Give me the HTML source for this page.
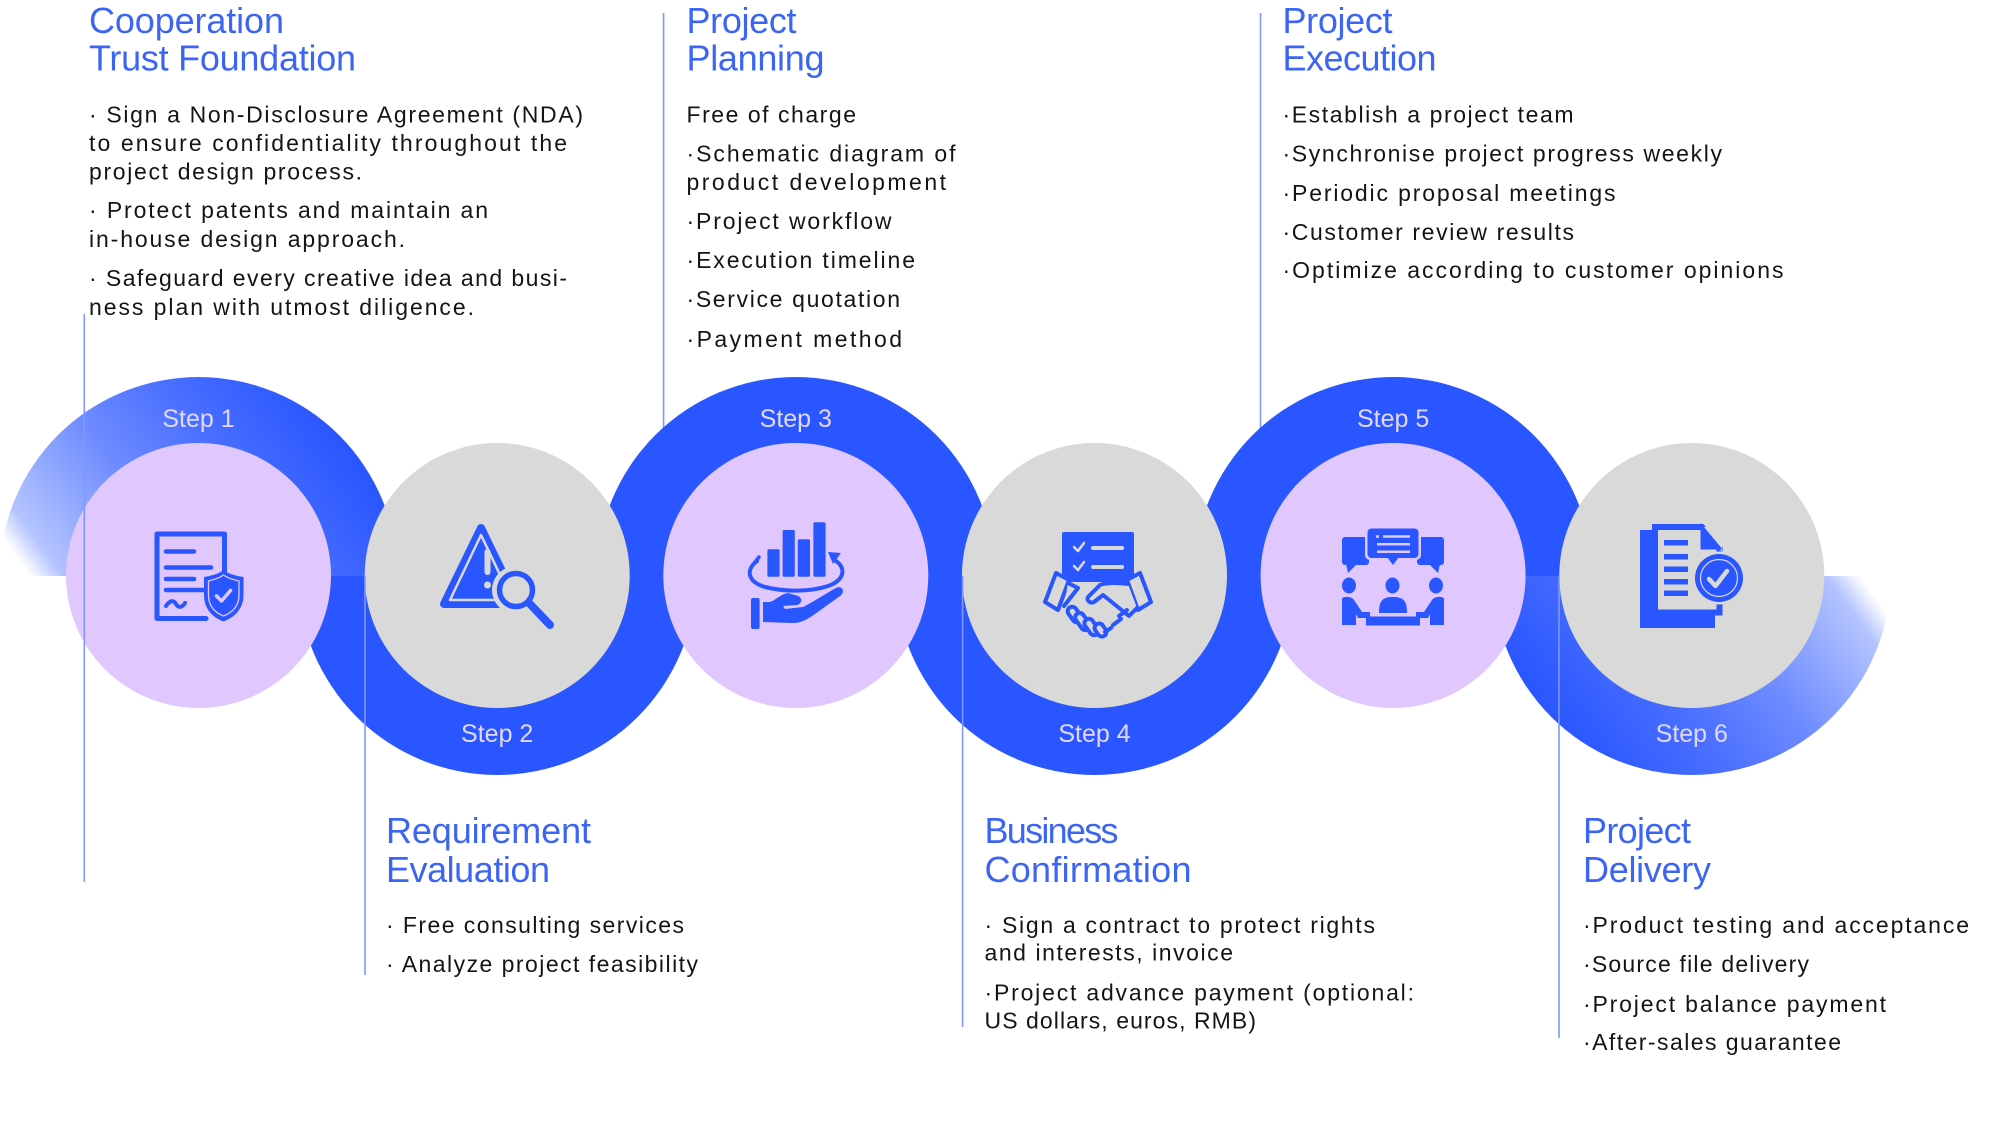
<!DOCTYPE html>
<html><head><meta charset="utf-8"><style>
html,body{margin:0;padding:0;background:#fff;overflow:hidden}
svg{display:block}
.h{font-family:"Liberation Sans",Arial,sans-serif;font-size:36px;fill:#3d65f4}
.b{font-family:"Liberation Sans",Arial,sans-serif;font-size:23px;fill:#141414}
.s{font-family:"Liberation Sans",Arial,sans-serif;font-size:25px;fill:#e2d8ff}
</style></head><body>
<svg width="2000" height="1122" viewBox="0 0 2000 1122" xmlns="http://www.w3.org/2000/svg">
<defs>
<linearGradient id="g1" gradientUnits="userSpaceOnUse" x1="30" y1="576" x2="300" y2="380">
<stop offset="0" stop-color="#2a56ff" stop-opacity="0"/>
<stop offset="0.08" stop-color="#2a56ff" stop-opacity="0.35"/>
<stop offset="0.4" stop-color="#2a56ff" stop-opacity="0.68"/>
<stop offset="0.65" stop-color="#2a56ff" stop-opacity="0.84"/>
<stop offset="0.9" stop-color="#2a56ff" stop-opacity="0.96"/>
<stop offset="1" stop-color="#2a56ff" stop-opacity="1"/>
</linearGradient>
<linearGradient id="g6" gradientUnits="userSpaceOnUse" x1="1860" y1="576" x2="1590" y2="772">
<stop offset="0" stop-color="#2a56ff" stop-opacity="0"/>
<stop offset="0.08" stop-color="#2a56ff" stop-opacity="0.35"/>
<stop offset="0.4" stop-color="#2a56ff" stop-opacity="0.68"/>
<stop offset="0.65" stop-color="#2a56ff" stop-opacity="0.84"/>
<stop offset="0.9" stop-color="#2a56ff" stop-opacity="0.96"/>
<stop offset="1" stop-color="#2a56ff" stop-opacity="1"/>
</linearGradient>
</defs>

<!-- lines under rings -->
<g stroke="#7f97ff" stroke-width="1.6">
<line x1="663.6" y1="13" x2="663.6" y2="576"/>
<line x1="1260.5" y1="13" x2="1260.5" y2="576"/>
</g>

<!-- rings -->
<path d="M -0.5 576 A 199 199 0 0 1 397.5 576 Z" fill="url(#g1)"/>
<path d="M 298.2 576 A 199 199 0 0 0 696.2 576 Z" fill="#2a56ff"/>
<path d="M 596.8 576 A 199 199 0 0 1 994.8 576 Z" fill="#2a56ff"/>
<path d="M 895.5 576 A 199 199 0 0 0 1293.5 576 Z" fill="#2a56ff"/>
<path d="M 1194.1 576 A 199 199 0 0 1 1592.1 576 Z" fill="#2a56ff"/>
<path d="M 1492.8 576 A 199 199 0 0 0 1890.8 576 Z" fill="url(#g6)"/>

<!-- circles -->
<circle cx="198.5" cy="575.5" r="132.5" fill="#e0c7fd"/>
<circle cx="497.2" cy="575.5" r="132.5" fill="#d9d9d9"/>
<circle cx="795.8" cy="575.5" r="132.5" fill="#e0c7fd"/>
<circle cx="1094.5" cy="575.5" r="132.5" fill="#d9d9d9"/>
<circle cx="1393.1" cy="575.5" r="132.5" fill="#e0c7fd"/>
<circle cx="1691.8" cy="575.5" r="132.5" fill="#d9d9d9"/>

<!-- step labels -->
<text class="s" x="198.5" y="427" text-anchor="middle">Step 1</text>
<text class="s" x="497.2" y="742" text-anchor="middle">Step 2</text>
<text class="s" x="795.8" y="427" text-anchor="middle">Step 3</text>
<text class="s" x="1094.5" y="742" text-anchor="middle">Step 4</text>
<text class="s" x="1393.1" y="427" text-anchor="middle">Step 5</text>
<text class="s" x="1691.8" y="742" text-anchor="middle">Step 6</text>

<!-- icon 1: document + shield -->
<g fill="none" stroke="#2a56ff" stroke-linecap="round" stroke-linejoin="round">
<path d="M 206 618.5 L 157 618.5 L 157 534 L 224.5 534 L 224.5 572" stroke-width="5"/>
<path d="M 166 551.5 L 194 551.5 M 166 567.5 L 211 567.5 M 166 579 L 194 579 M 166 590 L 205 590" stroke-width="4.5"/>
<path d="M 166 606 C 170 600, 174 600, 176 604 C 178 608, 182 608, 185 603" stroke-width="4"/>
</g>
<path d="M 223.5 570 C 230 575, 238 576, 243.5 577 L 243.5 595 C 243.5 610, 233 618, 223.5 621.5 C 214 618, 204 610, 204 595 L 204 577 C 209 576, 217 575, 223.5 570 Z" fill="#2a56ff"/>
<path d="M 223.5 575 C 229 579, 235 580, 239 581 L 239 595 C 239 607, 231 613, 223.5 616 C 216 613, 208.5 607, 208.5 595 L 208.5 581 C 212 580, 218 579, 223.5 575 Z" fill="none" stroke="#e0c7fd" stroke-width="1.3"/>
<path d="M 216.5 596 L 221.5 601 L 230.5 590.5" fill="none" stroke="#e0c7fd" stroke-width="3.5" stroke-linecap="round" stroke-linejoin="round"/>

<!-- icon 2: warning + magnifier -->
<path d="M 481 528 L 444 604 L 518 604 Z" fill="#2a56ff" stroke="#2a56ff" stroke-width="8" stroke-linejoin="round"/>
<path d="M 481 535 L 450 600 L 512 600 Z" fill="none" stroke="#d9d9d9" stroke-width="2.5" stroke-linejoin="round"/>
<rect x="484.5" y="549" width="6" height="26" rx="3" fill="#d9d9d9"/>
<circle cx="487.5" cy="585" r="3.5" fill="#d9d9d9"/>
<circle cx="516" cy="590" r="24" fill="#d9d9d9"/>
<circle cx="516" cy="590" r="16.5" fill="#d9d9d9" stroke="#2a56ff" stroke-width="5.5"/>
<path d="M 530 604 L 550 625" stroke="#2a56ff" stroke-width="8" stroke-linecap="round"/>

<!-- icon 3: chart + hand -->
<path d="M 757 561 C 745 570, 748 582, 765 587 C 785 592, 810 592, 828 586 C 845 580, 846 568, 836 561" fill="none" stroke="#2a56ff" stroke-width="4" stroke-linecap="round"/>
<path d="M 752 566 L 759 557" stroke="#2a56ff" stroke-width="3.5" stroke-linecap="round"/>
<path d="M 828 552 L 841 553 L 833 564 Z" fill="#2a56ff"/>
<rect x="767.4" y="549.3" width="12.2" height="27.4" rx="1.5" fill="#2a56ff"/>
<rect x="782.6" y="530" width="12.2" height="46.7" rx="1.5" fill="#2a56ff"/>
<rect x="797.8" y="539.3" width="12.2" height="37.4" rx="1.5" fill="#2a56ff"/>
<rect x="813.4" y="522.3" width="12.2" height="54.4" rx="1.5" fill="#2a56ff"/>
<rect x="751" y="598" width="8.6" height="31" rx="2" fill="#2a56ff"/>
<path d="M 763 602 L 770 602 C 776 600, 781 594, 788 593 L 798 596 C 803 598, 802 604, 797 605 L 783 606 L 785 609 L 803 607 C 815 601, 828 592, 836 588 C 842 585, 846 592, 840 596 L 815 614 C 805 621, 800 623, 792 623 L 763 622 Z" fill="#2a56ff"/>

<!-- icon 4: clipboard + handshake -->
<rect x="1062" y="532" width="72" height="50" rx="2" fill="#2a56ff"/>
<path d="M 1074 547 L 1078 551 L 1084 543 M 1074 566 L 1078 570 L 1084 562" fill="none" stroke="#d9d9d9" stroke-width="2.5" stroke-linecap="round" stroke-linejoin="round"/>
<path d="M 1093 548 L 1122 548 M 1093 567 L 1122 567" stroke="#d9d9d9" stroke-width="4" stroke-linecap="round"/>
<g fill="#d9d9d9" stroke="#2a56ff" stroke-width="4" stroke-linejoin="round" stroke-linecap="round">
<path d="M 1056 573 L 1069 580 L 1058 610 L 1045 602 Z"/>
<path d="M 1140 573 L 1127 580 L 1138 610 L 1151 602 Z"/>
<path d="M 1128 584 C 1120 583, 1108 582, 1100 585 L 1088 597 C 1086 600, 1090 604, 1094 602 L 1103 595 L 1129 616 L 1137 608"/>
<path d="M 1068 583 L 1078 588 L 1064 606"/>
<rect x="1070" y="606" width="9" height="17" rx="4.5" transform="rotate(-35 1074.5 614.5)"/>
<rect x="1078" y="612" width="9" height="19" rx="4.5" transform="rotate(-35 1082.5 621.5)"/>
<rect x="1087" y="618" width="9" height="18" rx="4.5" transform="rotate(-35 1091.5 627)"/>
<rect x="1096" y="623" width="9" height="14" rx="4.5" transform="rotate(-35 1100.5 630)"/>
<path d="M 1105 632 L 1111 628 M 1113 625 L 1121 619 M 1119 616 L 1127 610"/>
</g>

<!-- icon 5: meeting -->
<rect x="1342" y="537" width="27" height="28" rx="3" fill="#2a56ff"/>
<path d="M 1346 564 L 1357 564 L 1348 573 Z" fill="#2a56ff"/>
<rect x="1417" y="537" width="27" height="28" rx="3" fill="#2a56ff"/>
<path d="M 1440 564 L 1429 564 L 1438 573 Z" fill="#2a56ff"/>
<rect x="1365" y="526" width="56" height="34" rx="5" fill="#e0c7fd"/>
<rect x="1367.5" y="528.5" width="51" height="29.5" rx="4" fill="#2a56ff"/>
<path d="M 1387 557 L 1399 557 L 1393 565 Z" fill="#2a56ff"/>
<path d="M 1383 536.5 L 1410 536.5 M 1377 544.3 L 1410 544.3 M 1377 551.7 L 1410 551.7" stroke="#e0c7fd" stroke-width="2.5"/>
<rect x="1376" y="535.2" width="3" height="2.6" fill="#e0c7fd"/>
<ellipse cx="1349" cy="585.5" rx="7" ry="8" fill="#2a56ff"/>
<ellipse cx="1392.5" cy="585.5" rx="7" ry="8" fill="#2a56ff"/>
<ellipse cx="1436" cy="585.5" rx="7" ry="8" fill="#2a56ff"/>
<path d="M 1342 599 C 1342 596, 1352 596, 1354 600 L 1362 612 L 1370 612 L 1370 618 L 1358 618 L 1356 614 L 1356 625 L 1342 625 Z" fill="#2a56ff"/>
<path d="M 1444 599 C 1444 596, 1434 596, 1432 600 L 1424 612 L 1416 612 L 1416 618 L 1428 618 L 1430 614 L 1430 625 L 1444 625 Z" fill="#2a56ff"/>
<path d="M 1379 613 C 1379 600, 1383 597, 1393 597 C 1403 597, 1407 600, 1407 613 Z" fill="#2a56ff"/>
<rect x="1366" y="616.5" width="54" height="9" fill="#2a56ff"/>

<!-- icon 6: document + badge -->
<rect x="1640" y="530" width="75" height="98" fill="#2a56ff"/>
<path d="M 1655 527 L 1702 527 L 1719.5 548 L 1719.5 612.5 L 1655 612.5 Z" fill="#d9d9d9" stroke="#2a56ff" stroke-width="6" stroke-linejoin="miter"/>
<path d="M 1700 527 L 1722 527 L 1722 552 Z" fill="#d9d9d9"/>
<path d="M 1702 527 L 1719.5 548 L 1702 548 Z" fill="#2a56ff" stroke="#2a56ff" stroke-width="3"/>
<rect x="1664" y="540" width="24" height="5.5" fill="#2a56ff"/>
<rect x="1664" y="554" width="24" height="5.5" fill="#2a56ff"/>
<rect x="1664" y="566.5" width="24" height="5.5" fill="#2a56ff"/>
<rect x="1664" y="579" width="24" height="5.5" fill="#2a56ff"/>
<rect x="1664" y="590.5" width="24" height="5.5" fill="#2a56ff"/>
<circle cx="1719" cy="578" r="26.5" fill="#d9d9d9"/>
<circle cx="1719" cy="578" r="24" fill="#2a56ff"/>
<circle cx="1719" cy="578" r="18.5" fill="none" stroke="#d9d9d9" stroke-width="1.2"/>
<path d="M 1709 579 L 1715.5 586 L 1727 571" fill="none" stroke="#d9d9d9" stroke-width="4.5" stroke-linecap="round" stroke-linejoin="round"/>

<!-- column lines on top -->
<g stroke="#7f97ff" stroke-width="1.6">
<line x1="84.3" y1="314" x2="84.3" y2="882"/>
<line x1="365" y1="576" x2="365" y2="975"/>
<line x1="962.6" y1="576" x2="962.6" y2="1027"/>
<line x1="1559" y1="576" x2="1559" y2="1038"/>
</g>

<!-- headings -->
<text class="h" x="89" y="33" textLength="195" lengthAdjust="spacing">Cooperation</text>
<text class="h" x="89" y="70.5" textLength="267" lengthAdjust="spacing">Trust Foundation</text>
<text class="h" x="686.5" y="33" textLength="110" lengthAdjust="spacing">Project</text>
<text class="h" x="686.5" y="70.5" textLength="138" lengthAdjust="spacing">Planning</text>
<text class="h" x="1282.5" y="33" textLength="110" lengthAdjust="spacing">Project</text>
<text class="h" x="1282.5" y="70.5" textLength="154" lengthAdjust="spacing">Execution</text>
<text class="h" x="386" y="843" textLength="205" lengthAdjust="spacing">Requirement</text>
<text class="h" x="386" y="882" textLength="164" lengthAdjust="spacing">Evaluation</text>
<text class="h" x="984.5" y="843" textLength="134" lengthAdjust="spacing">Business</text>
<text class="h" x="984.5" y="882" textLength="207" lengthAdjust="spacing">Confirmation</text>
<text class="h" x="1583" y="843" textLength="108" lengthAdjust="spacing">Project</text>
<text class="h" x="1583" y="882" textLength="128" lengthAdjust="spacing">Delivery</text>

<!-- col 1 -->
<text class="b" x="89" y="122.7" textLength="494" lengthAdjust="spacing">· Sign a Non-Disclosure Agreement (NDA)</text>
<text class="b" x="89" y="151" textLength="478" lengthAdjust="spacing">to ensure confidentiality throughout the</text>
<text class="b" x="89" y="179.5" textLength="273" lengthAdjust="spacing">project design process.</text>
<text class="b" x="89" y="218" textLength="399" lengthAdjust="spacing">· Protect patents and maintain an</text>
<text class="b" x="89" y="247" textLength="316" lengthAdjust="spacing">in-house design approach.</text>
<text class="b" x="89" y="286" textLength="478" lengthAdjust="spacing">· Safeguard every creative idea and busi-</text>
<text class="b" x="89" y="315" textLength="385" lengthAdjust="spacing">ness plan with utmost diligence.</text>

<!-- col 3 -->
<text class="b" x="686.5" y="122.7" textLength="169.5" lengthAdjust="spacing">Free of charge</text>
<text class="b" x="686.5" y="161.7" textLength="269" lengthAdjust="spacing">·Schematic diagram of</text>
<text class="b" x="686.5" y="190" textLength="259.5" lengthAdjust="spacing">product development</text>
<text class="b" x="686.5" y="229" textLength="205" lengthAdjust="spacing">·Project workflow</text>
<text class="b" x="686.5" y="268" textLength="228.5" lengthAdjust="spacing">·Execution timeline</text>
<text class="b" x="686.5" y="307" textLength="213.5" lengthAdjust="spacing">·Service quotation</text>
<text class="b" x="686.5" y="347" textLength="215.5" lengthAdjust="spacing">·Payment method</text>

<!-- col 5 -->
<text class="b" x="1282.5" y="122.7" textLength="291" lengthAdjust="spacing">·Establish a project team</text>
<text class="b" x="1282.5" y="161.7" textLength="439.5" lengthAdjust="spacing">·Synchronise project progress weekly</text>
<text class="b" x="1282.5" y="201" textLength="333" lengthAdjust="spacing">·Periodic proposal meetings</text>
<text class="b" x="1282.5" y="240" textLength="291.5" lengthAdjust="spacing">·Customer review results</text>
<text class="b" x="1282.5" y="278" textLength="501" lengthAdjust="spacing">·Optimize according to customer opinions</text>

<!-- col 2 -->
<text class="b" x="386" y="933" textLength="298" lengthAdjust="spacing">· Free consulting services</text>
<text class="b" x="386" y="972" textLength="312" lengthAdjust="spacing">· Analyze project feasibility</text>

<!-- col 4 -->
<text class="b" x="984.5" y="933" textLength="390.5" lengthAdjust="spacing">· Sign a contract to protect rights</text>
<text class="b" x="984.5" y="960.5" textLength="248.5" lengthAdjust="spacing">and interests, invoice</text>
<text class="b" x="984.5" y="1000.5" textLength="429.5" lengthAdjust="spacing">·Project advance payment (optional:</text>
<text class="b" x="984.5" y="1028.3" textLength="271.5" lengthAdjust="spacing">US dollars, euros, RMB)</text>

<!-- col 6 -->
<text class="b" x="1583" y="933" textLength="386" lengthAdjust="spacing">·Product testing and acceptance</text>
<text class="b" x="1583" y="972" textLength="226" lengthAdjust="spacing">·Source file delivery</text>
<text class="b" x="1583" y="1012" textLength="303" lengthAdjust="spacing">·Project balance payment</text>
<text class="b" x="1583" y="1050" textLength="258" lengthAdjust="spacing">·After-sales guarantee</text>
</svg>
</body></html>
